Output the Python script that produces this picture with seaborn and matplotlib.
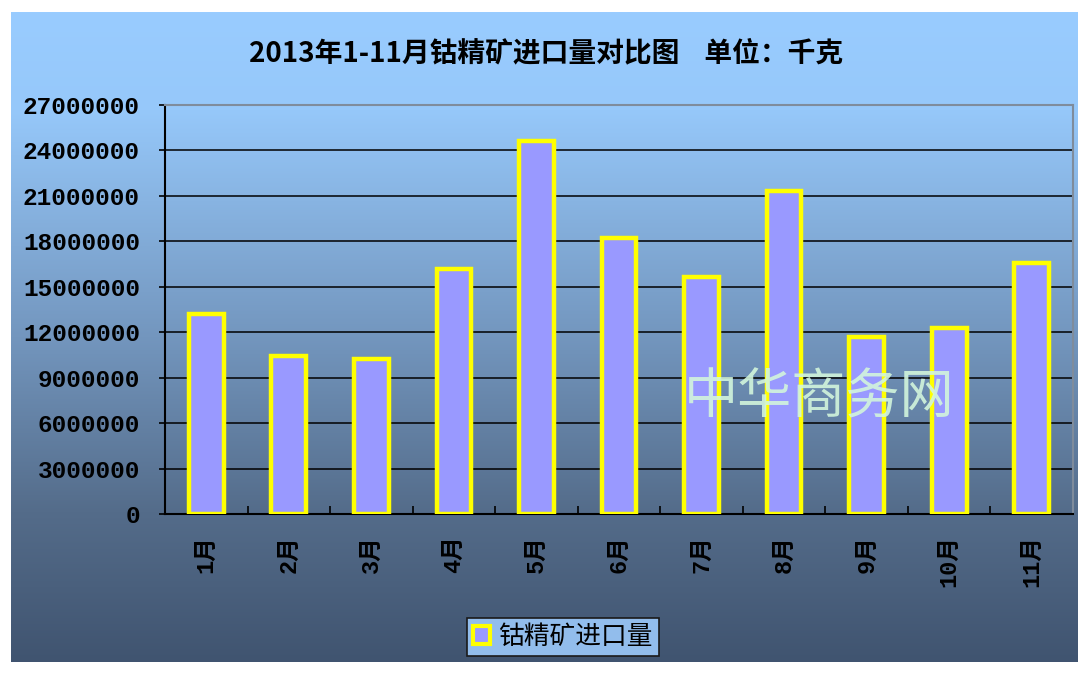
import numpy as np
import matplotlib
matplotlib.use("Agg")
import matplotlib.pyplot as plt
import seaborn as sns
from matplotlib.patches import Patch
from matplotlib.ticker import FuncFormatter

# data (kg)
months = ["1月", "2月", "3月", "4月", "5月", "6月", "7月", "8月", "9月", "10月", "11月"]
imports = [13200000, 10400000, 10200000, 16200000, 24650000, 18200000,
           15650000, 21300000, 11700000, 12300000, 16550000]
yticks = [0, 3000000, 6000000, 9000000, 12000000, 15000000,
          18000000, 21000000, 24000000, 27000000]

title = "2013年1-11月钴精矿进口量对比图    单位：千克"
series_name = "钴精矿进口量"
watermark = "中华商务网"

plt.rcParams['font.family'] = ['Noto Sans CJK SC', 'DejaVu Sans']
plt.rcParams['axes.unicode_minus'] = False

W, H = 1079, 673
fig = plt.figure(figsize=(W / 100, H / 100), dpi=100, facecolor="white")

# gradient background panel
bg = fig.add_axes([11 / W, (H - 662) / H, (1078 - 11) / W, (662 - 12) / H], zorder=-1)
stops = [0.0, 0.15, 0.5, 0.77, 1.0]
cols = np.array([[153, 204, 255], [150, 200, 250], [115, 150, 190],
                 [84, 108, 138], [64, 84, 112]]) / 255.0
t = np.linspace(0, 1, 400)
grad = np.stack([np.interp(t, stops, cols[:, i]) for i in range(3)], axis=1)
bg.imshow(grad[:, None, :], aspect="auto", extent=[0, 1, 0, 1])
bg.axis("off")

# main axes
ax = fig.add_axes([165 / W, (H - 514) / H, (1073 - 165) / W, (514 - 105) / H])
ax.set_facecolor("none")

sns.barplot(x=months, y=imports, color="#9999FF", saturation=1, width=0.42,
            edgecolor="#FFFF00", linewidth=3.2, ax=ax, zorder=3)

ax.set_ylim(0, 27000000)
ax.set_yticks(yticks)
ax.yaxis.set_major_formatter(FuncFormatter(lambda v, p: f"{v:.0f}"))
ax.set_xlim(-0.5, len(months) - 0.5)
ax.grid(axis="y", color="black", linewidth=1.1, zorder=1)
ax.set_axisbelow(True)

for lab in ax.get_yticklabels():
    lab.set_family(["Liberation Mono", "DejaVu Sans"])
    lab.set_fontweight("bold")
    lab.set_fontsize(17.6)
for lab in ax.get_xticklabels():
    lab.set_family(["Liberation Mono", "Noto Sans CJK SC"])
    lab.set_fontweight("bold")
    lab.set_fontsize(17)
    lab.set_rotation(90)

ax.tick_params(axis="y", direction="out", length=4, width=1.2, pad=14, colors="black")
ax.tick_params(axis="x", which="major", length=0, pad=15, colors="black")
ax.set_xticks(np.arange(0.5, len(months) - 1, 1), minor=True)
ax.tick_params(axis="x", which="minor", direction="in", length=6, width=1.2, color="black")

ax.spines["left"].set_color("black")
ax.spines["bottom"].set_color("black")
ax.spines["left"].set_linewidth(1.5)
ax.spines["bottom"].set_linewidth(1.5)
ax.spines["top"].set_color("#7f8c9c")
ax.spines["right"].set_color("#7f8c9c")
ax.spines["top"].set_linewidth(1.5)
ax.spines["right"].set_linewidth(1.5)
ax.set_xlabel("")
ax.set_ylabel("")

# title
fig.text(546 / W, 1 - 53 / H, title, ha="center", va="center",
         fontsize=20, fontweight="bold", color="black")

# watermark
ax.text(0.72, 0.283, watermark, transform=ax.transAxes, ha="center", va="center",
        fontsize=39, color="#D2F5DC", alpha=0.9, zorder=5)

# legend
handle = Patch(facecolor="#9999FF", edgecolor="#FFFF00", linewidth=3)
leg = fig.legend([handle], [series_name], loc="center",
                 bbox_to_anchor=(563 / W, 1 - 637 / H), fancybox=False,
                 frameon=True, fontsize=18.5, handlelength=0.65, handleheight=0.75,
                 handletextpad=0.35, borderpad=0.22, borderaxespad=0)
leg.get_frame().set_facecolor("#92BDEC")
leg.get_frame().set_edgecolor("#1a1a1a")
leg.get_frame().set_linewidth(1.2)
leg.get_frame().set_alpha(1)

fig.savefig("out.png", dpi=100, facecolor="white")
